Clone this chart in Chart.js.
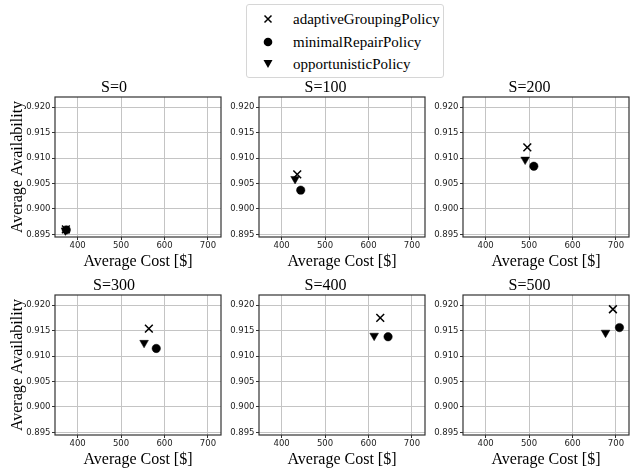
<!DOCTYPE html>
<html>
<head>
<meta charset="utf-8">
<script src="https://cdn.jsdelivr.net/npm/chart.js@4"></script>
<style>
  html, body { margin: 0; padding: 0; background: #fff; }
  #fig { position: relative; width: 632px; height: 472px; overflow: hidden; background: #fff; }
  #fig canvas { position: absolute; }
  .legend { position: absolute; left: 246px; top: 4px; width: 196px; height: 72px; border: 1px solid #d6d6d6; border-radius: 3px; background: #fff;
    font-family: 'Liberation Serif', 'Times New Roman', serif; font-size: 15px; color: #000; z-index: 5; }
  .legend .row { position: absolute; left: 0; width: 100%; height: 20px; line-height: 20px; }
  .legend svg { position: absolute; left: 16px; top: 5px; }
  .legend span { position: absolute; left: 46px; white-space: nowrap; }
</style>
</head>
<body>
<div id="fig">
  <div class="legend">
    <div class="row" style="top:4px">
      <svg width="10" height="10"><path d="M1.5 1.5 L8.5 8.5 M8.5 1.5 L1.5 8.5" stroke="#000" stroke-width="1.5"/></svg>
      <span>adaptiveGroupingPolicy</span>
    </div>
    <div class="row" style="top:26.5px">
      <svg width="10" height="10"><circle cx="5" cy="5" r="4.3" fill="#000"/></svg>
      <span>minimalRepairPolicy</span>
    </div>
    <div class="row" style="top:48.5px">
      <svg width="10" height="10"><path d="M0.5 1 L9.5 1 L5 9 Z" fill="#000"/></svg>
      <span>opportunisticPolicy</span>
    </div>
  </div>
</div>
<script>
const panelTitles = ['S=0', 'S=100', 'S=200', 'S=300', 'S=400', 'S=500'];
const seriesNames = ['adaptiveGroupingPolicy', 'minimalRepairPolicy', 'opportunisticPolicy'];

const adaptiveCost = [373, 436, 496, 564, 627, 693];
const adaptiveAvail = [0.8960, 0.9068, 0.9121, 0.9154, 0.9175, 0.9192];
const minimalCost = [374, 444, 511, 581, 645, 708];
const minimalAvail = [0.8959, 0.9037, 0.9084, 0.9115, 0.9138, 0.9156];
const opportunisticCost = [372, 431, 491, 553, 613, 676];
const opportunisticAvail = [0.8958, 0.9059, 0.9097, 0.9126, 0.9140, 0.9146];

const xTicks = [400, 500, 600, 700];
const yTicks = [0.895, 0.900, 0.905, 0.910, 0.915, 0.920];
const xRange = [348, 730];
const yRange = [0.8945, 0.9220];

const xLabel = 'Average Cost [$]';
const yLabel = 'Average Availability';

// layout of the 2x3 grid (plot-area pixels)
const AREA_W = 171, AREA_H = 140;
const colLeft = [55, 259, 463];
const rowTop = [97, 295];
const TITLE_H = 20, X_AXIS_H = 36;

const serif = "'Liberation Serif', 'Times New Roman', serif";
const sans = "'DejaVu Sans', sans-serif";

const framePlugin = {
  id: 'frame',
  afterDraw(chart) {
    const { ctx, chartArea: a } = chart;
    ctx.save();
    ctx.strokeStyle = '#333';
    ctx.lineWidth = 1.2;
    ctx.strokeRect(a.left, a.top, a.right - a.left, a.bottom - a.top);
    ctx.restore();
  }
};

function points(xs, ys, i) {
  return [{ x: xs[i], y: ys[i] }];
}

function makePanel(i) {
  const col = i % 3, row = Math.floor(i / 3);
  const yW = col === 0 ? 55 : 40;
  const canvas = document.createElement('canvas');
  const w = yW + AREA_W + 2;
  const h = TITLE_H + AREA_H + X_AXIS_H;
  canvas.width = w;
  canvas.height = h;
  canvas.style.left = (colLeft[col] - yW) + 'px';
  canvas.style.top = (rowTop[row] - TITLE_H) + 'px';
  canvas.style.width = w + 'px';
  canvas.style.height = h + 'px';
  document.getElementById('fig').appendChild(canvas);

  new Chart(canvas, {
    type: 'scatter',
    data: {
      datasets: [
        { label: seriesNames[0], data: points(adaptiveCost, adaptiveAvail, i), pointStyle: 'crossRot', pointRadius: 5.5, borderWidth: 1.5, borderColor: '#000', backgroundColor: '#000' },
        { label: seriesNames[1], data: points(minimalCost, minimalAvail, i), pointStyle: 'circle', pointRadius: 4.2, borderWidth: 0.5, borderColor: '#000', backgroundColor: '#000' },
        { label: seriesNames[2], data: points(opportunisticCost, opportunisticAvail, i), pointStyle: 'triangle', pointRotation: 180, pointRadius: 5, borderWidth: 0.5, borderColor: '#000', backgroundColor: '#000' },
      ]
    },
    options: {
      responsive: false,
      animation: false,
      events: [],
      layout: { padding: 0 },
      plugins: {
        legend: { display: false },
        tooltip: { enabled: false },
        title: { display: true, text: panelTitles[i], color: '#000', font: { family: serif, size: 16, weight: 'normal', lineHeight: 1.2 }, padding: { top: 0.8, bottom: 0 } }
      },
      scales: {
        x: {
          type: 'linear', min: xRange[0], max: xRange[1],
          afterBuildTicks: s => { s.ticks = xTicks.map(v => ({ value: v })); },
          afterFit: s => { s.height = X_AXIS_H; },
          ticks: { color: '#222', font: { family: sans, size: 8.5 }, padding: 1, callback: v => String(v) },
          grid: { color: '#c4c4c4', lineWidth: 1, tickLength: 3, tickColor: '#333' },
          border: { display: false },
          title: { display: true, text: xLabel, color: '#000', font: { family: serif, size: 16, lineHeight: 1.2 }, padding: { top: 0, bottom: 1.4 } }
        },
        y: {
          type: 'linear', min: yRange[0], max: yRange[1],
          afterBuildTicks: s => { s.ticks = yTicks.map(v => ({ value: v })); },
          afterFit: s => { s.width = yW; },
          ticks: { color: '#222', font: { family: sans, size: 8.5 }, padding: 1.5, callback: v => v.toFixed(3) },
          grid: { color: '#c4c4c4', lineWidth: 1, tickLength: 3, tickColor: '#333' },
          border: { display: false },
          title: { display: col === 0, text: yLabel, color: '#000', font: { family: serif, size: 16, lineHeight: 1.2 }, padding: { top: 8, bottom: 0 } }
        }
      }
    },
    plugins: [framePlugin]
  });
}

panelTitles.forEach((_, i) => makePanel(i));
</script>
</body>
</html>
